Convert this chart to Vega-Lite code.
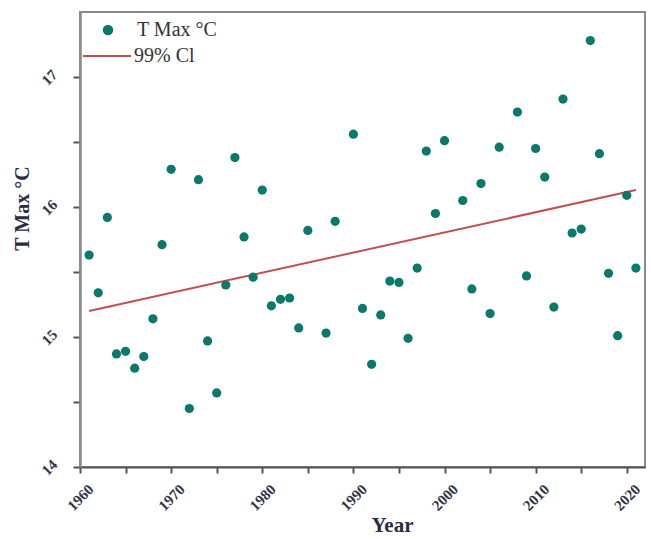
{
  "$schema": "https://vega.github.io/schema/vega-lite/v6.json",
  "autosize": "none",
  "width": 565,
  "height": 455,
  "padding": {"left": 80, "top": 12, "right": 6, "bottom": 72},
  "background": "white",
  "config": {
    "view": {"stroke": "#8a8a8a", "strokeWidth": 2},
    "font": "Liberation Serif"
  },
  "datasets": {
    "pts": [
      {"year": 1961, "tmax": 15.63}, {"year": 1962, "tmax": 15.34}, {"year": 1963, "tmax": 15.92},
      {"year": 1964, "tmax": 14.87}, {"year": 1965, "tmax": 14.89}, {"year": 1966, "tmax": 14.76},
      {"year": 1967, "tmax": 14.85}, {"year": 1968, "tmax": 15.14}, {"year": 1969, "tmax": 15.71},
      {"year": 1970, "tmax": 16.29}, {"year": 1972, "tmax": 14.45}, {"year": 1973, "tmax": 16.21},
      {"year": 1974, "tmax": 14.97}, {"year": 1975, "tmax": 14.57}, {"year": 1976, "tmax": 15.40},
      {"year": 1977, "tmax": 16.38}, {"year": 1978, "tmax": 15.77}, {"year": 1979, "tmax": 15.46},
      {"year": 1980, "tmax": 16.13}, {"year": 1981, "tmax": 15.24}, {"year": 1982, "tmax": 15.29},
      {"year": 1983, "tmax": 15.30}, {"year": 1984, "tmax": 15.07}, {"year": 1985, "tmax": 15.82},
      {"year": 1987, "tmax": 15.03}, {"year": 1988, "tmax": 15.89}, {"year": 1990, "tmax": 16.56},
      {"year": 1991, "tmax": 15.22}, {"year": 1992, "tmax": 14.79}, {"year": 1993, "tmax": 15.17},
      {"year": 1994, "tmax": 15.43}, {"year": 1995, "tmax": 15.42}, {"year": 1996, "tmax": 14.99},
      {"year": 1997, "tmax": 15.53}, {"year": 1998, "tmax": 16.43}, {"year": 1999, "tmax": 15.95},
      {"year": 2000, "tmax": 16.51}, {"year": 2002, "tmax": 16.05}, {"year": 2003, "tmax": 15.37},
      {"year": 2004, "tmax": 16.18}, {"year": 2005, "tmax": 15.18}, {"year": 2006, "tmax": 16.46},
      {"year": 2008, "tmax": 16.73}, {"year": 2009, "tmax": 15.47}, {"year": 2010, "tmax": 16.45},
      {"year": 2011, "tmax": 16.23}, {"year": 2012, "tmax": 15.23}, {"year": 2013, "tmax": 16.83},
      {"year": 2014, "tmax": 15.80}, {"year": 2015, "tmax": 15.83}, {"year": 2016, "tmax": 17.28},
      {"year": 2017, "tmax": 16.41}, {"year": 2018, "tmax": 15.49}, {"year": 2019, "tmax": 15.01},
      {"year": 2020, "tmax": 16.09}, {"year": 2021, "tmax": 15.53}
    ],
    "fit": [
      {"year": 1961, "tmax": 15.20},
      {"year": 2021, "tmax": 16.13}
    ]
  },
  "encoding": {
    "x": {
      "field": "year", "type": "quantitative",
      "scale": {"domain": [1960, 2022], "nice": false, "zero": false},
      "axis": {
        "title": "Year",
        "values": [1960, 1965, 1970, 1975, 1980, 1985, 1990, 1995, 2000, 2005, 2010, 2015, 2020],
        "labelExpr": "datum.value % 10 === 0 ? datum.label : ''",
        "format": "d",
        "grid": false,
        "domainColor": "#555", "domainWidth": 2,
        "tickColor": "#555", "tickWidth": 2, "tickSize": 6,
        "labelAngle": -45, "labelAlign": "center", "labelBaseline": "middle",
        "labelFont": "Liberation Serif", "labelFontWeight": "bold", "labelFontSize": 15, "labelColor": "#33334a",
        "labelPadding": 24,
        "titleFont": "Liberation Serif", "titleFontWeight": "bold", "titleFontSize": 21, "titleColor": "#2b2b44",
        "titleX": 312, "titleY": 64, "titleBaseline": "alphabetic"
      }
    },
    "y": {
      "field": "tmax", "type": "quantitative",
      "scale": {"domain": [14, 17.5], "nice": false, "zero": false},
      "axis": {
        "title": "T Max °C",
        "values": [14, 14.5, 15, 15.5, 16, 16.5, 17],
        "format": "~g",
        "labelExpr": "datum.value % 1 === 0 ? datum.label : ''",
        "grid": false,
        "domainColor": "#8a8a8a", "domainWidth": 2.5,
        "tickColor": "#555", "tickWidth": 2, "tickSize": 7,
        "labelAngle": -45, "labelAlign": "center", "labelBaseline": "middle",
        "labelFont": "Liberation Serif", "labelFontWeight": "bold", "labelFontSize": 15, "labelColor": "#33334a",
        "labelPadding": 24,
        "titleFont": "Liberation Serif", "titleFontWeight": "bold", "titleFontSize": 20, "titleColor": "#2b2b44",
        "titleX": -48, "titleY": 196
      }
    }
  },
  "layer": [
    {
      "data": {"name": "fit"},
      "mark": {"type": "line", "strokeWidth": 2},
      "encoding": {
        "stroke": {
          "datum": "99% Cl",
          "scale": {"range": ["#c0504d"]},
          "legend": {
            "orient": "none", "legendX": 2, "legendY": 19,
            "symbolType": "stroke", "symbolSize": 2304, "symbolStrokeWidth": 2,
            "labelFont": "Liberation Serif", "labelFontSize": 20, "labelColor": "#333", "labelOffset": 2,
            "title": null
          }
        }
      }
    },
    {
      "data": {"name": "pts"},
      "mark": {"type": "circle", "size": 85, "opacity": 1},
      "encoding": {
        "fill": {
          "datum": "T Max °C",
          "scale": {"range": ["#0b786c"]},
          "legend": {
            "orient": "none", "legendX": 18, "legendY": 8,
            "symbolType": "circle", "symbolSize": 110, "symbolOpacity": 1,
            "labelFont": "Liberation Serif", "labelFontSize": 20, "labelColor": "#333", "labelOffset": 19,
            "title": null
          }
        }
      }
    }
  ]
}
